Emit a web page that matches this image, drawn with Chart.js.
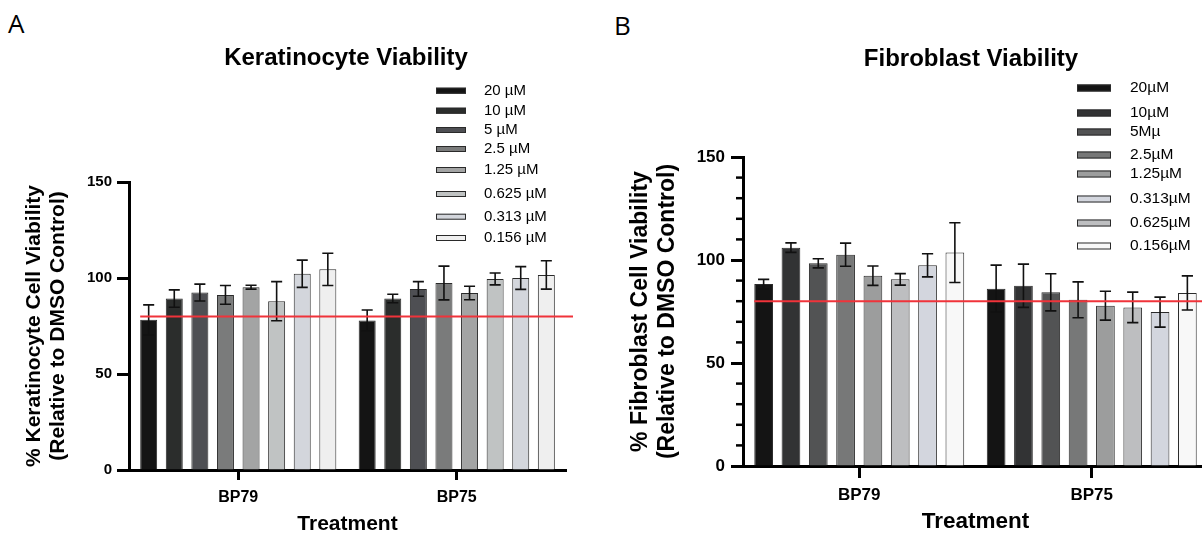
<!DOCTYPE html>
<html><head><meta charset="utf-8">
<script src="https://cdn.jsdelivr.net/npm/chart.js@4/dist/chart.umd.min.js"></script>
<style>
html,body{margin:0;padding:0;background:#fff;overflow:hidden;width:1202px;height:535px;}
#wrapA{position:absolute;left:0;top:0;width:600px;height:535px;}
#wrapB{position:absolute;left:600px;top:0;width:608px;height:535px;}
.panel{position:absolute;font-family:"Open Sans",sans-serif;font-size:26px;color:#000;line-height:1;}
</style></head><body>
<div class="panel" style="left:8px;top:10px">A</div>
<div class="panel" style="left:614px;top:12px">B</div>
<div id="wrapA"><canvas id="cA"></canvas></div>
<div id="wrapB"><canvas id="cB"></canvas></div>
<script>
// ---- data ----
const categories = ['BP79', 'BP75'];
const keratLabels = ['20 µM','10 µM','5 µM','2.5 µM','1.25 µM','0.625 µM','0.313 µM','0.156 µM'];
const keratBP79 = [78.2, 89.3, 92.4, 91.2, 95.2, 87.9, 102.2, 104.5];
const keratBP79Err = [7.8, 4.5, 4.4, 4.9, 1.0, 10.2, 7.1, 8.4];
const keratBP75 = [77.9, 89.3, 94.3, 97.4, 92.2, 99.5, 100.0, 101.6];
const keratBP75Err = [5.4, 2.2, 3.8, 8.8, 3.5, 3.1, 5.9, 7.4];
const fibroLabels = ['20µM','10µM','5Mµ','2.5µM','1.25µM','0.625µM','0.313µM','0.156µM'];
const fibroBP79 = [88.3, 106.0, 98.4, 102.6, 92.4, 90.6, 97.4, 103.6];
const fibroBP79Err = [2.3, 2.3, 2.2, 5.6, 4.7, 2.8, 5.6, 14.5];
const fibroBP75 = [86.1, 87.5, 84.3, 80.7, 77.8, 77.0, 74.7, 84.0];
const fibroBP75Err = [11.4, 10.5, 9.0, 8.7, 7.0, 7.4, 7.3, 8.3];
const keratLegendOrder = [0,1,2,3,4,5,6,7];
const fibroLegendOrder = [0,1,2,3,4,6,5,7];
const threshold = 80;
const yMin = 0, yMax = 150;

// ---- styles ----
const F = '"Liberation Sans", Arial, Helvetica, sans-serif';
const keratColors = ['#141414','#2b2d2c','#4e4f53','#7a7b7b','#a3a4a4','#c0c3c3','#d3d6dc','#efefef'];
const fibroColors = ['#141414','#323334','#525354','#777878','#9c9d9d','#bdbec0','#d3d6de','#f8f8f8'];

const decor = {
  id: 'decor',
  afterDatasetsDraw(chart, args, o) {
    const ctx = chart.ctx, y = chart.scales.y, area = chart.chartArea;
    ctx.save();
    ctx.strokeStyle = '#111'; ctx.lineWidth = o.errWidth;
    chart.data.datasets.forEach((ds, di) => {
      const meta = chart.getDatasetMeta(di);
      meta.data.forEach((bar, j) => {
        const v = ds.data[j], e = ds.errors[j];
        const yt = y.getPixelForValue(v + e), yb = y.getPixelForValue(v - e);
        const cw = bar.width * o.capRatio / 2;
        ctx.beginPath();
        ctx.moveTo(bar.x, yt); ctx.lineTo(bar.x, yb);
        ctx.moveTo(bar.x - cw, yt); ctx.lineTo(bar.x + cw, yt);
        ctx.moveTo(bar.x - cw, yb); ctx.lineTo(bar.x + cw, yb);
        ctx.stroke();
      });
    });
    const first = chart.getDatasetMeta(0).data[0];
    const ty = y.getPixelForValue(threshold);
    ctx.strokeStyle = '#f0333a'; ctx.lineWidth = 2;
    ctx.beginPath();
    ctx.moveTo(first.x - first.width / 2, ty);
    ctx.lineTo(area.right + o.lineExtend, ty);
    ctx.stroke();
    ctx.restore();
  },
  afterDraw(chart, args, o) {
    const ctx = chart.ctx, y = chart.scales.y, area = chart.chartArea;
    ctx.save();
    // minor ticks
    if (o.minorLen) {
      ctx.strokeStyle = '#000'; ctx.lineWidth = 2.5;
      y.ticks.forEach((t, i) => {
        if (t.value % 50 !== 0) {
          const py = y.getPixelForTick(i);
          ctx.beginPath(); ctx.moveTo(area.left - o.minorLen, py); ctx.lineTo(area.left, py); ctx.stroke();
        }
      });
    }
    // title
    ctx.fillStyle = '#000';
    ctx.font = 'bold ' + o.titleSize + 'px ' + F;
    ctx.textAlign = 'center'; ctx.textBaseline = 'alphabetic';
    ctx.fillText(o.title, o.titleX, o.titleY);
    // legend
    ctx.font = o.legendFont + 'px ' + F;
    ctx.textAlign = 'left'; ctx.textBaseline = 'middle';
    o.legendOrder.forEach((di, k) => {
      const ds = chart.data.datasets[di];
      const yy = o.legendYs[k];
      ctx.fillStyle = ds.backgroundColor;
      ctx.fillRect(o.swX, yy - o.swH / 2, o.swW, o.swH);
      ctx.strokeStyle = '#2a2a2a'; ctx.lineWidth = 1;
      ctx.strokeRect(o.swX + 0.5, yy - o.swH / 2 + 0.5, o.swW - 1, o.swH - 1);
      ctx.fillStyle = '#000';
      ctx.fillText(ds.label, o.textX, yy);
    });
    ctx.restore();
  }
};

function makeDatasets(labels, colors, a, aErr, b, bErr, cp, bp) {
  return labels.map((lab, i) => ({
    label: lab,
    data: [a[i], b[i]],
    errors: [aErr[i], bErr[i]],
    backgroundColor: colors[i],
    borderColor: '#2a2a2a',
    borderWidth: 1,
    categoryPercentage: cp,
    barPercentage: bp
  }));
}

new Chart(document.getElementById('cA'), {
  type: 'bar',
  data: { labels: categories, datasets: makeDatasets(keratLabels, keratColors, keratBP79, keratBP79Err, keratBP75, keratBP75Err, 0.937, 0.664) },
  plugins: [decor],
  options: {
    responsive: true, maintainAspectRatio: false, animation: false,
    layout: { padding: { top: 182, left: 0, right: 34, bottom: 0 } },
    plugins: {
      legend: { display: false }, title: { display: false }, tooltip: { enabled: false },
      decor: { errWidth: 1.6, capRatio: 0.65, lineExtend: 7, title: 'Keratinocyte Viability', titleSize: 24, titleX: 346, titleY: 65,
        legendFont: 15, legendOrder: keratLegendOrder, legendYs: [90.7,110.7,130,149,170,194,216.7,238], swX: 436, swW: 30, swH: 6, textX: 484, minorLen: 0 }
    },
    scales: {
      x: {
        z: 1, offset: true,
        ticks: { padding: 8, color: '#000', font: { size: 16, weight: 'bold', family: F } },
        grid: { drawOnChartArea: false, offset: false, tickLength: 10, tickWidth: 3, tickColor: '#000' },
        border: { width: 3, color: '#000' },
        title: { display: true, text: 'Treatment', color: '#000', font: { size: 21, weight: 'bold', family: F, lineHeight: 1 }, padding: { top: 0, bottom: 0 } },
        afterFit(s) { s.height = 65; }
      },
      y: {
        min: yMin, max: yMax,
        ticks: { stepSize: 50, padding: 5, color: '#000', font: { size: 15, weight: 'bold', family: F } },
        grid: { drawOnChartArea: false, tickLength: 12, tickWidth: 3, tickColor: '#000' },
        border: { width: 3, color: '#000' },
        title: { display: true, text: ['% Keratinocyte Cell Viability', '(Relative to DMSO Control)'], color: '#000', font: { size: 21, weight: 'bold', family: F, lineHeight: 1.15 }, padding: { top: 22, bottom: 0 } },
        afterFit(s) { s.width = 129; }
      }
    }
  }
});

new Chart(document.getElementById('cB'), {
  type: 'bar',
  data: { labels: categories, datasets: makeDatasets(fibroLabels, fibroColors, fibroBP79, fibroBP79Err, fibroBP75, fibroBP75Err, 0.94, 0.685) },
  plugins: [decor],
  options: {
    responsive: true, maintainAspectRatio: false, animation: false,
    layout: { padding: { top: 157, left: 0, right: 0, bottom: 0 } },
    plugins: {
      legend: { display: false }, title: { display: false }, tooltip: { enabled: false },
      decor: { errWidth: 1.6, capRatio: 0.6, lineExtend: 0, title: 'Fibroblast Viability', titleSize: 24, titleX: 371, titleY: 66,
        legendFont: 15.5, legendOrder: fibroLegendOrder, legendYs: [88,113,132,155,174,199,223,246], swX: 477, swW: 34, swH: 7, textX: 530, minorLen: 7 }
    },
    scales: {
      x: {
        z: 1, offset: true,
        ticks: { padding: 7, color: '#000', font: { size: 17, weight: 'bold', family: F } },
        grid: { drawOnChartArea: false, offset: false, tickLength: 12, tickWidth: 3, tickColor: '#000' },
        border: { width: 3, color: '#000' },
        title: { display: true, text: 'Treatment', color: '#000', font: { size: 22.5, weight: 'bold', family: F, lineHeight: 1.15 }, padding: { top: 0, bottom: 0 } },
        afterFit(s) { s.height = 69; }
      },
      y: {
        min: yMin, max: yMax,
        ticks: { stepSize: 10, autoSkip: false, padding: 6, color: '#000', font: { size: 17, weight: 'bold', family: F },
          callback: v => (v % 50 === 0 ? v : '') },
        grid: { drawOnChartArea: false, tickLength: 12, tickWidth: 3,
          tickColor: c => (c.tick && c.tick.value % 50 === 0 ? '#000' : 'rgba(0,0,0,0)') },
        border: { width: 3, color: '#000' },
        title: { display: true, text: ['% Fibroblast Cell Viability', '(Relative to DMSO Control)'], color: '#000', font: { size: 23, weight: 'bold', family: F, lineHeight: 1.17 }, padding: { top: 27.5, bottom: 0 } },
        afterFit(s) { s.width = 143; }
      }
    }
  }
});
</script>
</body></html>
